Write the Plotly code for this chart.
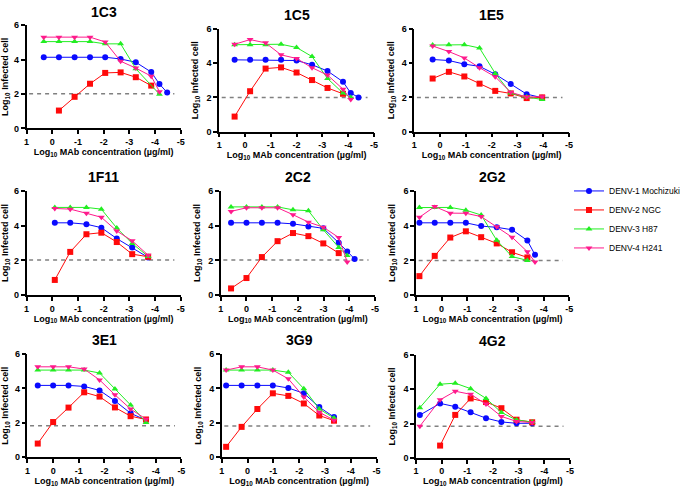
import plotly.graph_objects as go

# ---------------- data ----------------
panel_names = ["1C3", "1C5", "1E5", "1F11", "2C2", "2G2", "3E1", "3G9", "4G2"]
series_names = ["DENV-1 Mochizuki", "DENV-2 NGC", "DENV-3 H87", "DENV-4 H241"]

x_1C3 = [0.33, -0.26, -0.87, -1.47, -2.06, -2.66, -3.25, -3.85, -4.17, -4.47]
d1_1C3 = [4.14, 4.14, 4.14, 4.14, 4.14, 4.04, 3.85, 3.28, 2.58, 2.09]
d2_1C3 = [None, 1.04, 1.84, 2.60, 3.23, 3.26, 2.98, 2.49, None, None]
d3_1C3 = [5.05, 5.05, 5.05, 5.05, 4.92, 4.92, 3.47, None, 1.99, None]
d4_1C3 = [5.31, 5.31, 5.31, 5.31, 5.03, 3.91, 3.51, 3.04, 2.14, None]

x_1C5 = [0.4, -0.2, -0.8, -1.4, -2.0, -2.6, -3.2, -3.8, -4.1, -4.4]
d1_1C5 = [4.19, 4.19, 4.19, 4.19, 4.15, 3.90, 3.54, 2.91, 2.25, 2.00]
d2_1C5 = [0.88, 2.36, 3.68, 3.75, 3.45, 3.01, 2.55, 2.21, None, None]
d3_1C5 = [5.07, 5.07, 5.07, 5.10, 4.91, 4.38, 3.10, 2.25, 2.00, None]
d4_1C5 = [5.10, 5.37, 5.18, 4.48, 4.27, 3.73, 3.30, 2.48, 1.87, None]

x_1E5 = [0.29, -0.34, -0.94, -1.53, -2.14, -2.74, -3.36, -3.96]
d1_1E5 = [4.21, 4.15, 3.94, 3.81, 3.35, 2.78, 2.19, 1.98]
d2_1E5 = [3.10, 3.49, 3.22, 2.80, 2.38, 2.23, 1.96, 2.00]
d3_1E5 = [5.05, 5.07, 5.07, 4.88, 3.40, 2.25, 2.02, 1.88]
d4_1E5 = [5.00, 4.67, 4.30, 3.73, 3.20, 2.30, 2.02, 2.04]

x_1F11 = [-0.1, -0.7, -1.33, -1.91, -2.51, -3.11, -3.73]
d1_1F11 = [4.17, 4.17, 4.09, 3.89, 3.26, 2.74, 2.17]
d2_1F11 = [0.87, 2.49, 3.51, 3.60, 3.06, 2.36, 2.21]
d3_1F11 = [5.06, 5.06, 5.06, 4.96, 3.87, 2.98, 2.23]
d4_1F11 = [5.00, 4.96, 4.72, 4.49, 3.70, 3.13, 2.30]

x_2C2 = [0.6, 0.0, -0.6, -1.21, -1.81, -2.41, -2.99, -3.59, -3.92, -4.21]
d1_2C2 = [4.17, 4.17, 4.17, 4.17, 4.11, 3.96, 3.85, 3.02, 2.51, 2.08]
d2_2C2 = [0.38, 0.98, 2.19, 3.11, 3.58, 3.40, 2.98, 2.42, None, None]
d3_2C2 = [5.09, 5.09, 5.09, 5.09, 4.92, 4.87, 3.77, 2.75, 2.28, None]
d4_2C2 = [4.83, 5.04, 5.04, 5.04, 4.64, 4.21, 3.92, 3.32, 1.91, None]

x_2G2 = [0.87, 0.27, -0.34, -0.95, -1.55, -2.16, -2.76, -3.36, -3.66]
d1_2G2 = [4.17, 4.17, 4.17, 4.17, 3.98, 3.91, 3.77, 3.15, 2.32]
d2_2G2 = [1.09, 2.26, 3.32, 3.68, 3.34, 2.98, 2.47, 2.17, None]
d3_2G2 = [5.05, 5.06, 5.06, 4.90, 4.62, 3.16, 2.22, 2.00, None]
d4_2G2 = [4.49, 5.11, 4.73, 4.72, 4.53, 3.95, 3.34, 2.50, 1.90]

x_3E1 = [0.6, 0.0, -0.6, -1.21, -1.81, -2.41, -3.02, -3.62]
d1_3E1 = [4.18, 4.18, 4.18, 4.12, 3.89, 3.28, 2.56, 2.16]
d2_3E1 = [0.80, 2.05, 2.89, 3.78, 3.53, 2.90, 2.39, 2.20]
d3_3E1 = [5.07, 5.07, 5.07, 5.07, 4.90, 3.97, 3.04, 2.03]
d4_3E1 = [5.26, 5.26, 5.26, 5.13, 4.50, 3.63, 2.81, 2.22]

x_3G9 = [0.83, 0.23, -0.38, -0.98, -1.58, -2.18, -2.78, -3.35]
d1_3G9 = [4.18, 4.18, 4.18, 4.18, 4.03, 3.72, 2.92, 2.34]
d2_3G9 = [0.61, 1.77, 2.81, 3.72, 3.57, 3.13, 2.43, 2.13]
d3_3G9 = [5.07, 5.07, 5.07, 5.07, 4.94, 3.99, 2.81, 2.28]
d4_3G9 = [5.07, 5.26, 5.26, 5.07, 4.56, 3.51, 2.62, 2.16]

x_4G2 = [0.85, 0.06, -0.53, -1.13, -1.73, -2.33, -2.92, -3.53]
d1_4G2 = [2.50, 3.18, 2.99, 2.67, 2.32, 2.10, 2.02, 2.02]
d2_4G2 = [None, 0.72, 2.51, 3.47, 3.26, 2.90, 2.23, 2.08]
d3_4G2 = [2.93, 4.30, 4.36, 4.04, 3.47, 2.65, 2.21, 2.10]
d4_4G2 = [1.85, 3.39, 3.89, 3.71, 3.14, 2.42, 2.13, 2.06]

# limit of detection (dashed line) per panel, and its x extent
lod_values = [2.02, 2.0, 2.0, 2.02, 2.02, 2.0, 1.84, 1.82, 1.85]
lod_x_extent = [0.9, -4.75]

x_tick_values = [1, 0, -1, -2, -3, -4, -5]
x_tick_labels = ["1", "0", "-1", "-2", "-3", "-4", "-5"]
y_tick_values = [0, 2, 4, 6]
y_tick_labels = ["0", "2", "4", "6"]

panel_x = [x_1C3, x_1C5, x_1E5, x_1F11, x_2C2, x_2G2, x_3E1, x_3G9, x_4G2]
panel_y = [
    [d1_1C3, d2_1C3, d3_1C3, d4_1C3],
    [d1_1C5, d2_1C5, d3_1C5, d4_1C5],
    [d1_1E5, d2_1E5, d3_1E5, d4_1E5],
    [d1_1F11, d2_1F11, d3_1F11, d4_1F11],
    [d1_2C2, d2_2C2, d3_2C2, d4_2C2],
    [d1_2G2, d2_2G2, d3_2G2, d4_2G2],
    [d1_3E1, d2_3E1, d3_3E1, d4_3E1],
    [d1_3G9, d2_3G9, d3_3G9, d4_3G9],
    [d1_4G2, d2_4G2, d3_4G2, d4_4G2],
]

# ---------------- style / layout ----------------
W, H = 685, 493
FONT = "Liberation Sans, Arial, sans-serif"
colors = ["#0a0aff", "#ff0a0a", "#22ee22", "#ff1a8c"]
symbols = ["circle", "square", "triangle-up", "triangle-down"]
msizes = [6, 6, 6, 6]

# plot boxes in pixels: (left, right, top, bottom)
boxes = [
    (24.3, 183.7, 20.7, 126.0),
    (223.3, 383.3, 24.3, 129.3),
    (425.0, 584.7, 24.3, 129.3),
    (24.3, 183.7, 190.0, 296.0),
    (225.0, 384.3, 190.0, 296.0),
    (426.8, 585.0, 190.0, 296.0),
    (25.3, 184.3, 356.3, 461.7),
    (226.0, 386.0, 356.3, 461.7),
    (426.7, 585.7, 357.3, 462.3),
]
title_y_px = [7.5, 10.0, 10.0, 176.0, 176.0, 175.5, 342.0, 342.3, 342.7]


def px_x(p):
    return p / W


def px_y(p):
    return 1 - p / H


fig = go.Figure()
annotations = []
layout_axes = {}

for i, name in enumerate(panel_names):
    k = "" if i == 0 else str(i + 1)
    xa, ya = "x" + k, "y" + k
    l, r, t, b = boxes[i]
    # LOD dashed line
    fig.add_trace(go.Scatter(
        x=lod_x_extent, y=[lod_values[i]] * 2, mode="lines",
        line=dict(color="#808080", width=1.5, dash="4px,4px"),
        xaxis=xa, yaxis=ya, showlegend=False, hoverinfo="skip"))
    for s in range(4):
        fig.add_trace(go.Scatter(
            x=panel_x[i], y=panel_y[i][s], mode="lines+markers",
            name=series_names[s], legendgroup=series_names[s],
            showlegend=(i == 0), connectgaps=True,
            line=dict(color=colors[s], width=1),
            marker=dict(symbol=symbols[s], size=msizes[s], color=colors[s],
                        line=dict(width=0)),
            xaxis=xa, yaxis=ya, cliponaxis=False))
    common = dict(showline=True, linecolor="black", linewidth=1.5,
                  ticks="outside", ticklen=4, tickwidth=1.5, tickcolor="black",
                  showgrid=False, zeroline=False,
                  tickfont=dict(family=FONT, size=9, color="black", weight="bold"))
    layout_axes["xaxis" + k] = dict(
        common, domain=[px_x(l), px_x(r)], anchor=ya, range=[1, -5],
        tickmode="array", tickvals=x_tick_values, ticktext=x_tick_labels,
        title=dict(text="<b>Log<sub>10</sub> MAb concentration (µg/ml)</b>",
                   font=dict(family=FONT, size=9, color="black"), standoff=0))
    layout_axes["yaxis" + k] = dict(
        common, domain=[px_y(b), px_y(t)], anchor=xa, range=[0, 6],
        tickmode="array", tickvals=y_tick_values, ticktext=y_tick_labels,
        title=dict(text="<b>Log<sub>10</sub> Infected cell</b>",
                   font=dict(family=FONT, size=9, color="black"), standoff=6))
    annotations.append(dict(
        text="<b>%s</b>" % name, xref="paper", yref="paper",
        x=px_x((l + r) / 2), y=px_y(title_y_px[i]),
        xanchor="center", yanchor="middle", showarrow=False,
        font=dict(family=FONT, size=14, color="black")))

fig.update_layout(
    width=W, height=H,
    margin=dict(l=0, r=0, t=0, b=0),
    paper_bgcolor="white", plot_bgcolor="white",
    font=dict(family=FONT, color="black"),
    annotations=annotations,
    legend=dict(x=px_x(585), y=px_y(175), xanchor="left", yanchor="top",
                font=dict(family=FONT, size=8.5, color="black"),
                bgcolor="rgba(0,0,0,0)", tracegroupgap=0, itemwidth=30),
    **layout_axes)

# remove the default page margin so the figure fills the window exactly
fig.write_html("out.html",
               config={"displayModeBar": False},
               post_script="document.body.style.margin='0';")
